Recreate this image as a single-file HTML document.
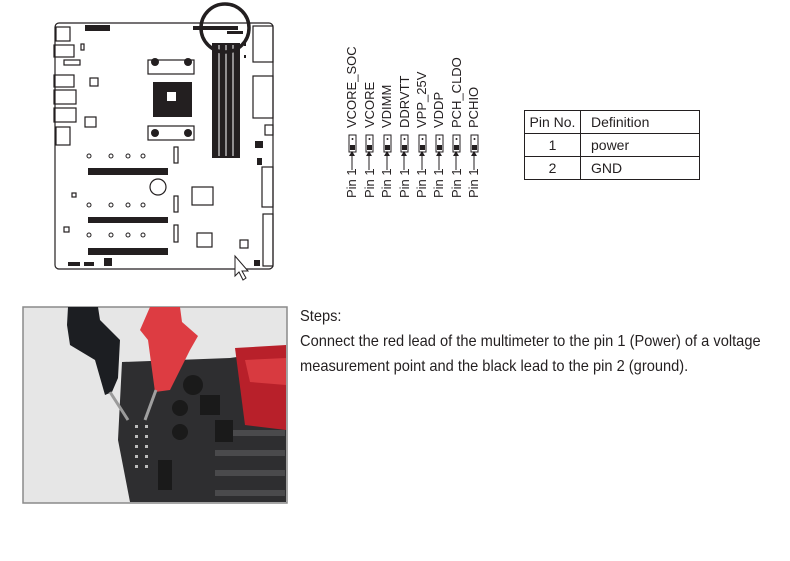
<!DOCTYPE html>
<html><head><meta charset="utf-8"><style>
html,body{margin:0;padding:0;background:#fff;}
body{width:790px;height:561px;position:relative;overflow:hidden;font-family:"Liberation Sans",sans-serif;}
svg{position:absolute;left:0;top:0;}
.t{position:absolute;left:300px;font-size:16px;color:#231f20;white-space:nowrap;transform-origin:0 0;transform:scaleX(0.915);}
table{position:absolute;left:524px;top:110px;border-collapse:collapse;font-size:14px;color:#231f20;}
td{border:1px solid #231f20;height:22px;padding:0;}
</style></head><body>
<svg width="790" height="561" viewBox="0 0 790 561" font-family="Liberation Sans, sans-serif">
<g fill="none" stroke="#231f20" stroke-width="1.2">
<rect x="55" y="23" width="218" height="246" rx="4"/>
<rect x="56" y="27" width="14" height="14"/>
<rect x="54" y="45" width="20" height="12"/>
<rect x="64" y="60" width="16" height="5"/>
<rect x="54" y="75" width="20" height="12"/>
<rect x="54" y="90" width="22" height="14"/>
<rect x="54" y="108" width="22" height="14"/>
<rect x="56" y="127" width="14" height="18"/>
<rect x="90" y="78" width="8" height="8"/>
<rect x="85" y="117" width="11" height="10"/>
<rect x="81" y="44" width="3" height="6"/>
<rect x="253" y="26" width="20" height="36"/>
<rect x="253" y="76" width="20" height="42"/>
<rect x="265" y="125" width="8" height="10"/>
<rect x="262" y="167" width="11" height="40"/>
<rect x="263" y="214" width="10" height="52"/>
<rect x="240" y="240" width="8" height="8"/>
<rect x="192" y="187" width="21" height="18"/>
<rect x="197" y="233" width="15" height="14"/>
<rect x="174" y="147" width="4" height="16"/>
<rect x="174" y="196" width="4" height="16"/>
<rect x="174" y="225" width="4" height="17"/>
<rect x="72" y="193" width="4" height="4"/>
<rect x="64" y="227" width="5" height="5"/>
<circle cx="158" cy="187" r="8"/>
<rect x="148" y="60" width="46" height="14"/>
<rect x="148" y="126" width="46" height="14"/>
</g>
<g fill="#231f20">
<rect x="153" y="82" width="39" height="35"/>
<rect x="212" y="43" width="28" height="115"/>
<rect x="88" y="168" width="80" height="7"/>
<rect x="88" y="217" width="80" height="6"/>
<rect x="88" y="248" width="80" height="7"/>
<rect x="85" y="25" width="25" height="6"/>
<rect x="193" y="26" width="45" height="4"/>
<rect x="227" y="31" width="16" height="3"/>
<rect x="255" y="141" width="8" height="7"/>
<rect x="257" y="158" width="5" height="7"/>
<rect x="68" y="262" width="12" height="4"/>
<rect x="84" y="262" width="10" height="4"/>
<rect x="104" y="258" width="8" height="8"/>
<rect x="254" y="260" width="6" height="6"/>
<rect x="244" y="43" width="2" height="3"/><rect x="244" y="55" width="2" height="3"/>
<circle cx="155" cy="62" r="4"/><circle cx="188" cy="62" r="4"/><circle cx="155" cy="133" r="4"/><circle cx="188" cy="133" r="4"/>
</g>
<rect x="167" y="92" width="9" height="9" fill="#fff"/>
<g stroke="#fff" stroke-width="1"><line x1="219" y1="45" x2="219" y2="156"/><line x1="226" y1="45" x2="226" y2="156"/><line x1="233" y1="45" x2="233" y2="156"/></g>
<g fill="none" stroke="#231f20" stroke-width="1"><circle cx="89" cy="156" r="2"/><circle cx="111" cy="156" r="2"/><circle cx="128" cy="156" r="2"/><circle cx="143" cy="156" r="2"/><circle cx="89" cy="205" r="2"/><circle cx="111" cy="205" r="2"/><circle cx="128" cy="205" r="2"/><circle cx="143" cy="205" r="2"/><circle cx="89" cy="235" r="2"/><circle cx="111" cy="235" r="2"/><circle cx="128" cy="235" r="2"/><circle cx="143" cy="235" r="2"/></g>
<circle cx="225" cy="28" r="24" fill="none" stroke="#231f20" stroke-width="3.5"/>
<path d="M235 256 L235 276 L239 272 L243 280 L246 278 L242 271 L248 271 Z" fill="#fff" stroke="#231f20" stroke-width="1"/>
<g fill="#231f20" font-size="13">
<text transform="translate(356,198) rotate(-90)">Pin 1</text><text transform="translate(356,128) rotate(-90)">VCORE_SOC</text>
<text transform="translate(374,198) rotate(-90)">Pin 1</text><text transform="translate(374,128) rotate(-90)">VCORE</text>
<text transform="translate(391,198) rotate(-90)">Pin 1</text><text transform="translate(391,128) rotate(-90)">VDIMM</text>
<text transform="translate(409,198) rotate(-90)">Pin 1</text><text transform="translate(409,128) rotate(-90)">DDRVTT</text>
<text transform="translate(426,198) rotate(-90)">Pin 1</text><text transform="translate(426,128) rotate(-90)">VPP_25V</text>
<text transform="translate(443,198) rotate(-90)">Pin 1</text><text transform="translate(443,128) rotate(-90)">VDDP</text>
<text transform="translate(461,198) rotate(-90)">Pin 1</text><text transform="translate(461,128) rotate(-90)">PCH_CLDO</text>
<text transform="translate(478,198) rotate(-90)">Pin 1</text><text transform="translate(478,128) rotate(-90)">PCHIO</text>
</g>
<g stroke="#231f20" fill="none" stroke-width="1">
<path d="M352 170 V152 M369 170 V152 M387 170 V152 M404 170 V152 M422 170 V152 M439 170 V152 M456 170 V152 M474 170 V152"/>
<rect x="349" y="135" width="7" height="17"/><rect x="366" y="135" width="7" height="17"/><rect x="384" y="135" width="7" height="17"/><rect x="401" y="135" width="7" height="17"/><rect x="419" y="135" width="7" height="17"/><rect x="436" y="135" width="7" height="17"/><rect x="453" y="135" width="7" height="17"/><rect x="471" y="135" width="7" height="17"/>
</g>
<g fill="#231f20">
<path d="M349 156 l3 -5 l3 5z M366 156 l3 -5 l3 5z M384 156 l3 -5 l3 5z M401 156 l3 -5 l3 5z M419 156 l3 -5 l3 5z M436 156 l3 -5 l3 5z M453 156 l3 -5 l3 5z M471 156 l3 -5 l3 5z"/>
<rect x="350" y="145" width="5" height="5"/><rect x="367" y="145" width="5" height="5"/><rect x="385" y="145" width="5" height="5"/><rect x="402" y="145" width="5" height="5"/><rect x="420" y="145" width="5" height="5"/><rect x="437" y="145" width="5" height="5"/><rect x="454" y="145" width="5" height="5"/><rect x="472" y="145" width="5" height="5"/>
<circle cx="352.5" cy="139" r="1"/><circle cx="369.5" cy="139" r="1"/><circle cx="387.5" cy="139" r="1"/><circle cx="404.5" cy="139" r="1"/><circle cx="422.5" cy="139" r="1"/><circle cx="439.5" cy="139" r="1"/><circle cx="456.5" cy="139" r="1"/><circle cx="474.5" cy="139" r="1"/>
</g>
<rect x="23" y="307" width="264" height="196" fill="#e6e6e6" stroke="#8a8a8a" stroke-width="1.5"/>
<polygon points="122,362 230,358 286,350 286,502 130,502 118,440" fill="#2e2e30"/>
<polygon points="235,348 286,345 286,430 245,425" fill="#b8202a"/>
<polygon points="245,360 286,358 286,385 250,382" fill="#d83a40"/>
<g fill="#4a4a4c"><rect x="215" y="430" width="70" height="6"/><rect x="215" y="450" width="70" height="6"/><rect x="215" y="470" width="70" height="6"/><rect x="215" y="490" width="70" height="6"/></g>
<g fill="#1a1a1a"><circle cx="193" cy="385" r="10"/><circle cx="180" cy="408" r="8"/><circle cx="180" cy="432" r="8"/><rect x="200" y="395" width="20" height="20"/><rect x="215" y="420" width="18" height="22"/><rect x="158" y="460" width="14" height="30"/></g>
<g fill="#bbb"><rect x="135" y="425" width="3" height="3"/><rect x="145" y="425" width="3" height="3"/><rect x="135" y="435" width="3" height="3"/><rect x="145" y="435" width="3" height="3"/><rect x="135" y="445" width="3" height="3"/><rect x="145" y="445" width="3" height="3"/><rect x="135" y="455" width="3" height="3"/><rect x="145" y="455" width="3" height="3"/><rect x="135" y="465" width="3" height="3"/><rect x="145" y="465" width="3" height="3"/></g>
<polygon points="68,307 98,307 100,320 120,340 118,378 112,392 105,395 95,360 70,345 67,325" fill="#1c1e22"/>
<line x1="110" y1="392" x2="128" y2="420" stroke="#9a9a9a" stroke-width="3"/>
<polygon points="150,307 180,307 182,322 198,336 190,350 170,390 155,392 148,340 140,330" fill="#dd3c42"/>
<line x1="156" y1="390" x2="145" y2="420" stroke="#a0a0a0" stroke-width="3"/>
</svg>
<table>
<tr><td style="width:55px;text-align:center">Pin No.</td><td style="width:108px;padding-left:10px">Definition</td></tr>
<tr><td style="text-align:center">1</td><td style="padding-left:10px">power</td></tr>
<tr><td style="text-align:center">2</td><td style="padding-left:10px">GND</td></tr>
</table>
<div class="t" style="top:308px">Steps:</div>
<div class="t" style="top:333px">Connect the red lead of the multimeter to the pin 1 (Power) of a voltage</div>
<div class="t" style="top:358px">measurement point and the black lead to the pin 2 (ground).</div>
</body></html>
